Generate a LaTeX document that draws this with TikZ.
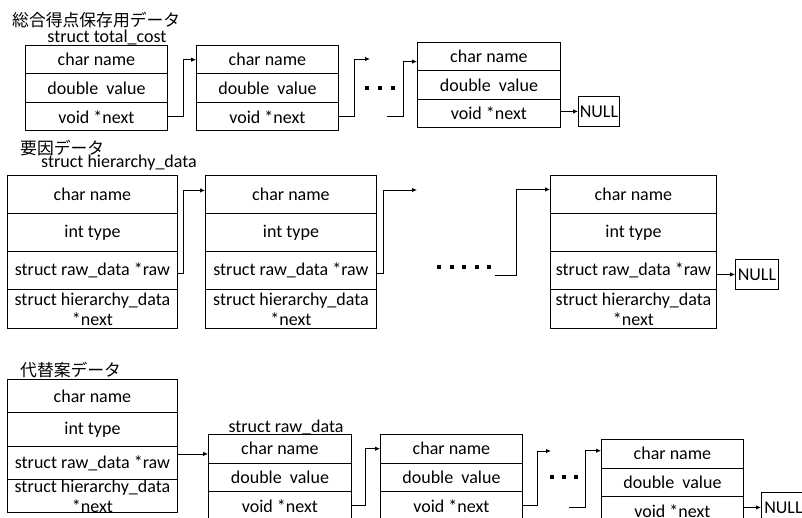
\documentclass[tikz,border=0pt]{standalone}
\usepackage{fontspec}
\setmainfont{Carlito}
\newfontfamily\jpfont{Noto Sans CJK JP}
\usetikzlibrary{arrows.meta,calc}
\begin{document}
\begin{tikzpicture}[x=1pt,y=-1pt,
  txt/.style={font=\fontsize{18}{20}\selectfont, inner sep=0pt},
  jp/.style={font=\jpfont\fontsize{16.8}{18}\selectfont, inner sep=0pt, anchor=west},
  cell/.style={draw, line width=0.9pt, anchor=north west, inner sep=0pt, align=center, font=\fontsize{18}{20}\selectfont},
  acell/.style={cell, minimum width=142pt, minimum height=28.5pt},
  bcell/.style={cell, minimum width=170pt, minimum height=38pt},
  ccell/.style={cell, minimum width=170pt, minimum height=33pt},
  dcell/.style={cell, minimum width=143pt, minimum height=28.5pt},
  nullbox/.style={cell, minimum height=30pt},
  arr/.style={line width=0.9pt, -{Latex[length=5pt,width=4.5pt]}},
  dotmark/.style={fill=black}
]
\useasboundingbox (0,0) rectangle (802,518);
\clip (0,0) rectangle (802,518);

% ---------- top row ----------
\node[jp] (t1) at (12,20) {総合得点保存用データ};
\node[txt] (l1) at (107,37) {struct total\_cost};

\node[acell] (a1c) at (25,45) {char name};
\node[acell] (a1v) at (25,73.5) {double\ \ value};
\node[acell] (a1n) at (25,102) {void *next};

\node[acell] (a2c) at (196,45) {char name};
\node[acell] (a2v) at (196,73.5) {double\ \ value};
\node[acell] (a2n) at (196,102) {void *next};

\node[acell, minimum width=143pt, minimum height=28.3pt] (a3c) at (417,42) {char name};
\node[acell, minimum width=143pt, minimum height=28.3pt] (a3v) at (417,70.3) {double\ \ value};
\node[acell, minimum width=143pt, minimum height=28.3pt] (a3n) at (417,98.6) {void *next};

\node[nullbox, minimum width=41pt] (null1) at (578,96) {NULL};

\coordinate (d1) at (370,59);
\coordinate (s1) at (387,116);
\draw[arr] (a1n.east) -- ++(16,0) |- (a2c.west);
\draw[arr] (a2n.east) -- ++(16,0) |- (d1);
\draw[arr] (s1) -- ++(16,0) |- ($(a3c.west)+(0,5)$);
\draw[arr] (a3n.east |- null1.west) -- (null1.west);
\foreach \x in {367,380,393} \fill[dotmark] (\x-2,86) rectangle (\x+2,90);

% ---------- middle row ----------
\node[jp] (t2) at (20,148) {要因データ};
\node[txt] (l2) at (119,163) {struct hierarchy\_data};

\node[bcell] (b1c) at (7,175) {char name};
\node[bcell] (b1t) at (7,213) {int type};
\node[bcell] (b1r) at (7,251) {struct raw\_data *raw};
\node[bcell, minimum height=39pt] (b1n) at (7,289) {struct hierarchy\_data\\*next};

\node[bcell, minimum width=171pt] (b2c) at (205,175) {char name};
\node[bcell, minimum width=171pt] (b2t) at (205,213) {int type};
\node[bcell, minimum width=171pt] (b2r) at (205,251) {struct raw\_data *raw};
\node[bcell, minimum width=171pt, minimum height=39pt] (b2n) at (205,289) {struct hierarchy\_data\\*next};

\node[bcell, minimum width=166pt] (b3c) at (550,175) {char name};
\node[bcell, minimum width=166pt] (b3t) at (550,213) {int type};
\node[bcell, minimum width=166pt] (b3r) at (550,251) {struct raw\_data *raw};
\node[bcell, minimum width=166pt, minimum height=39pt] (b3n) at (550,289) {struct hierarchy\_data\\*next};

\node[nullbox, minimum width=43pt] (null2) at (735,259) {NULL};

\coordinate (d2) at (417,190);
\coordinate (s2) at (495,275);
\draw[arr] ($(b1r.east)+(0,3)$) -- ++(6,0) |- ($(b2c.west)+(0,-4)$);
\draw[arr] ($(b2r.east)+(0,3)$) -- ++(7,0) |- (d2);
\draw[arr] (s2) -- ++(21,0) |- ($(b3c.west)+(0,-5)$);
\draw[arr] (b3r.east |- null2.west) -- (null2.west);
\foreach \x in {439,451.5,464,476.5,489} \fill[dotmark] (\x-2,265) rectangle (\x+2,269);

% ---------- bottom row ----------
\node[jp] (t3) at (20,370) {代替案データ};
\node[txt] (l3) at (286,427) {struct raw\_data};

\node[ccell] (c1c) at (7,379) {char name};
\node[ccell, minimum height=34pt] (c1t) at (7,412) {int type};
\node[ccell] (c1r) at (7,446) {struct raw\_data *raw};
\node[ccell] (c1n) at (7,479) {struct hierarchy\_data\\*next};

\node[dcell] (e1c) at (208,434) {char name};
\node[dcell] (e1v) at (208,462.5) {double\ \ value};
\node[dcell] (e1n) at (208,491) {void *next};

\node[dcell, minimum width=142pt] (e2c) at (380,434) {char name};
\node[dcell, minimum width=142pt] (e2v) at (380,462.5) {double\ \ value};
\node[dcell, minimum width=142pt] (e2n) at (380,491) {void *next};

\node[dcell, minimum width=142pt] (e3c) at (601,439) {char name};
\node[dcell, minimum width=142pt] (e3v) at (601,467.5) {double\ \ value};
\node[dcell, minimum width=142pt] (e3n) at (601,496) {void *next};

\node[nullbox, minimum width=44pt] (null3) at (761,492) {NULL};

\coordinate (c1o) at ($(c1r.east)+(0,-9)$);
\coordinate (d3) at (551,451);
\coordinate (s3) at (569,507);
\draw[arr] (c1o) -- (c1o -| e1c.west);
\draw[arr] (e1n.east) -- ++(14,0) |- (e2c.west);
\draw[arr] (e2n.east) -- ++(15,0) |- (d3);
\draw[arr] (s3) -- ++(16,0) |- ($(e3c.west)+(0,-3)$);
\draw[arr] (e3n.east |- null3.west) -- (null3.west);
\foreach \x in {552,564,576} \fill[dotmark] (\x-2,475) rectangle (\x+2,479);
\end{tikzpicture}
\end{document}
